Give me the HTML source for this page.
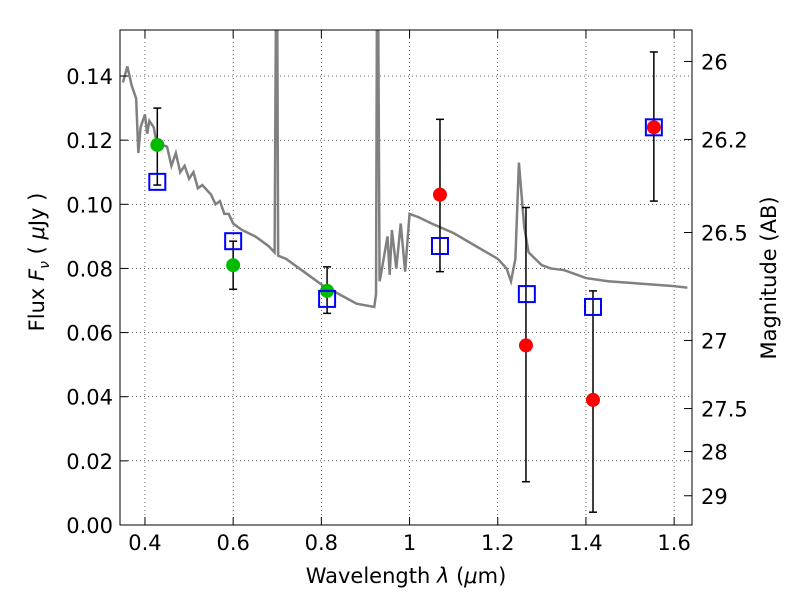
<!DOCTYPE html>
<html><head><meta charset="utf-8"><style>
body{margin:0;background:#fff}
svg{font-family:"DejaVu Sans","Liberation Sans",sans-serif}
</style></head><body>
<svg id="chart" width="800" height="600">
<rect x="0" y="0" width="800" height="600" fill="#fff"/>
<g id="grid"></g><g id="spec"></g><g id="marks"></g><g id="axes"></g>
</svg>
<script>
const specX=[0.35,0.36,0.37,0.38,0.385,0.39,0.40,0.405,0.41,0.42,0.425,0.43,0.45,0.46,0.47,0.48,0.49,0.50,0.51,0.52,0.53,0.55,0.56,0.57,0.58,0.59,0.60,0.62,0.65,0.68,0.694,0.697,0.700,0.702,0.72,0.75,0.78,0.80,0.84,0.88,0.92,0.924,0.926,0.929,0.932,0.935,0.94,0.95,0.955,0.96,0.97,0.98,0.99,1.0,1.02,1.05,1.1,1.15,1.2,1.22,1.23,1.24,1.248,1.26,1.27,1.3,1.32,1.35,1.38,1.4,1.45,1.5,1.55,1.6,1.63];
const specY=[0.138,0.143,0.137,0.133,0.116,0.124,0.128,0.122,0.126,0.124,0.120,0.119,0.118,0.112,0.116,0.110,0.112,0.108,0.110,0.105,0.106,0.103,0.100,0.101,0.097,0.097,0.094,0.092,0.090,0.087,0.085,0.16,0.16,0.084,0.083,0.080,0.077,0.075,0.072,0.069,0.068,0.072,0.16,0.16,0.076,0.078,0.082,0.090,0.078,0.092,0.080,0.094,0.079,0.097,0.096,0.094,0.091,0.087,0.083,0.080,0.076,0.083,0.113,0.093,0.085,0.081,0.080,0.0795,0.078,0.077,0.076,0.0755,0.075,0.0745,0.074];
const greenX=[0.428,0.6,0.813];
const greenY=[0.1185,0.081,0.073];
const greenLo=[0.106,0.0735,0.066];
const greenHi=[0.130,0.0885,0.0805];
const redX=[1.069,1.264,1.416,1.554];
const redY=[0.103,0.056,0.039,0.124];
const redLo=[0.079,0.0135,0.004,0.101];
const redHi=[0.1265,0.099,0.073,0.1475];
const boxX=[0.428,0.6,0.813,1.069,1.266,1.416,1.554];
const boxY=[0.107,0.0885,0.0705,0.087,0.072,0.068,0.124];
const xTicks=[0.4,0.6,0.8,1,1.2,1.4,1.6];
const xTickLabels=["0.4","0.6","0.8","1","1.2","1.4","1.6"];
const yTicks=[0,0.02,0.04,0.06,0.08,0.1,0.12,0.14];
const yTickLabels=["0.00","0.02","0.04","0.06","0.08","0.10","0.12","0.14"];
const magTicks=[26,26.2,26.5,27,27.5,28,29];
const magTickLabels=["26","26.2","26.5","27","27.5","28","29"];

const L=120,R=692,T=30,B=525,XMIN=0.3434,XMAX=1.6405,YMIN=0,YMAX=0.15435;
const sx=v=>L+(v-XMIN)/(XMAX-XMIN)*(R-L);
const sy=v=>B-(v-YMIN)/(YMAX-YMIN)*(B-T);
const NS="http://www.w3.org/2000/svg";
function mk(tag,attrs,parent,text){const e=document.createElementNS(NS,tag);for(const k in attrs)e.setAttribute(k,attrs[k]);if(text!==undefined)e.textContent=text;parent.appendChild(e);return e;}
const grid=document.getElementById('grid'),spec=document.getElementById('spec'),marks=document.getElementById('marks'),axes=document.getElementById('axes');
xTicks.forEach(v=>{const e=mk('line',{x1:sx(v),x2:sx(v),y1:T,y2:B,stroke:'#000','stroke-width':0.6,'stroke-dasharray':'1,3'},grid);

});
yTicks.forEach(v=>{const e=mk('line',{x1:L,x2:R,y1:sy(v),y2:sy(v),stroke:'#000','stroke-width':0.6,'stroke-dasharray':'1,3'},grid);

});
const defs=mk('clipPath',{id:'clip'},spec);mk('rect',{x:L,y:T,width:R-L,height:B-T},defs);
const sp=mk('polyline',{points:specX.map((x,i)=>sx(x)+','+sy(specY[i])).join(' '),fill:'none',stroke:'#808080','stroke-width':2.5,'clip-path':'url(#clip)'},spec);


function errbar(x,lo,hi){const g=mk('g',{},marks);


mk('line',{x1:sx(x),x2:sx(x),y1:sy(lo),y2:sy(hi),stroke:'#000','stroke-width':1.5},g);
mk('line',{x1:sx(x)-4,x2:sx(x)+4,y1:sy(lo),y2:sy(lo),stroke:'#000','stroke-width':1.5},g);
mk('line',{x1:sx(x)-4,x2:sx(x)+4,y1:sy(hi),y2:sy(hi),stroke:'#000','stroke-width':1.5},g);}
greenX.forEach((x,i)=>errbar(x,greenLo[i],greenHi[i]));
redX.forEach((x,i)=>errbar(x,redLo[i],redHi[i]));
greenX.forEach((x,i)=>{const c=mk('circle',{cx:sx(x),cy:sy(greenY[i]),r:7,fill:'#00bb00'},marks);

});
redX.forEach((x,i)=>{const c=mk('circle',{cx:sx(x),cy:sy(redY[i]),r:7,fill:'#ff0000'},marks);

});
boxX.forEach((x,i)=>{const r=mk('rect',{x:sx(x)-8,y:sy(boxY[i])-8,width:16,height:16,fill:'none',stroke:'#0000ff','stroke-width':2},marks);

});
const fr=mk('rect',{x:L,y:T,width:R-L,height:B-T,fill:'none',stroke:'#000','stroke-width':1},axes);


xTicks.forEach((v,i)=>{mk('line',{x1:sx(v),x2:sx(v),y1:B,y2:B-8,stroke:'#000'},axes);mk('line',{x1:sx(v),x2:sx(v),y1:T,y2:T+8,stroke:'#000'},axes);
const t=mk('text',{x:sx(v),y:B+25,'font-size':21,'text-anchor':'middle'},axes,xTickLabels[i]);

});
yTicks.forEach((v,i)=>{mk('line',{x1:L,x2:L+8,y1:sy(v),y2:sy(v),stroke:'#000'},axes);
const t=mk('text',{x:L-7,y:sy(v)+8,'font-size':21,'text-anchor':'end'},axes,yTickLabels[i]);

});
magTicks.forEach((m,i)=>{const y=sy(Math.pow(10,(23.9-m)/2.5));mk('line',{x1:R,x2:R-8,y1:y,y2:y,stroke:'#000'},axes);
const t=mk('text',{x:R+9,y:y+8,'font-size':21},axes,magTickLabels[i]);

});
</script>
<svg style="position:absolute;left:0;top:0" width="800" height="600">
<text x="406" y="583" font-size="21" text-anchor="middle" font-family="DejaVu Sans, sans-serif">Wavelength  <tspan font-style="italic">λ</tspan> (<tspan font-style="italic">μ</tspan>m)</text>
<text transform="translate(44,262) rotate(-90)" font-size="21" text-anchor="middle" font-family="DejaVu Sans, sans-serif">Flux  <tspan font-style="italic">F</tspan><tspan font-style="italic" font-size="14" dy="5">ν</tspan><tspan dy="-5">  ( </tspan><tspan font-style="italic">μ</tspan>Jy )</text>
<text transform="translate(776,278) rotate(-90)" font-size="21" text-anchor="middle" font-family="DejaVu Sans, sans-serif">Magnitude (AB)</text>
</svg>
</body></html>
